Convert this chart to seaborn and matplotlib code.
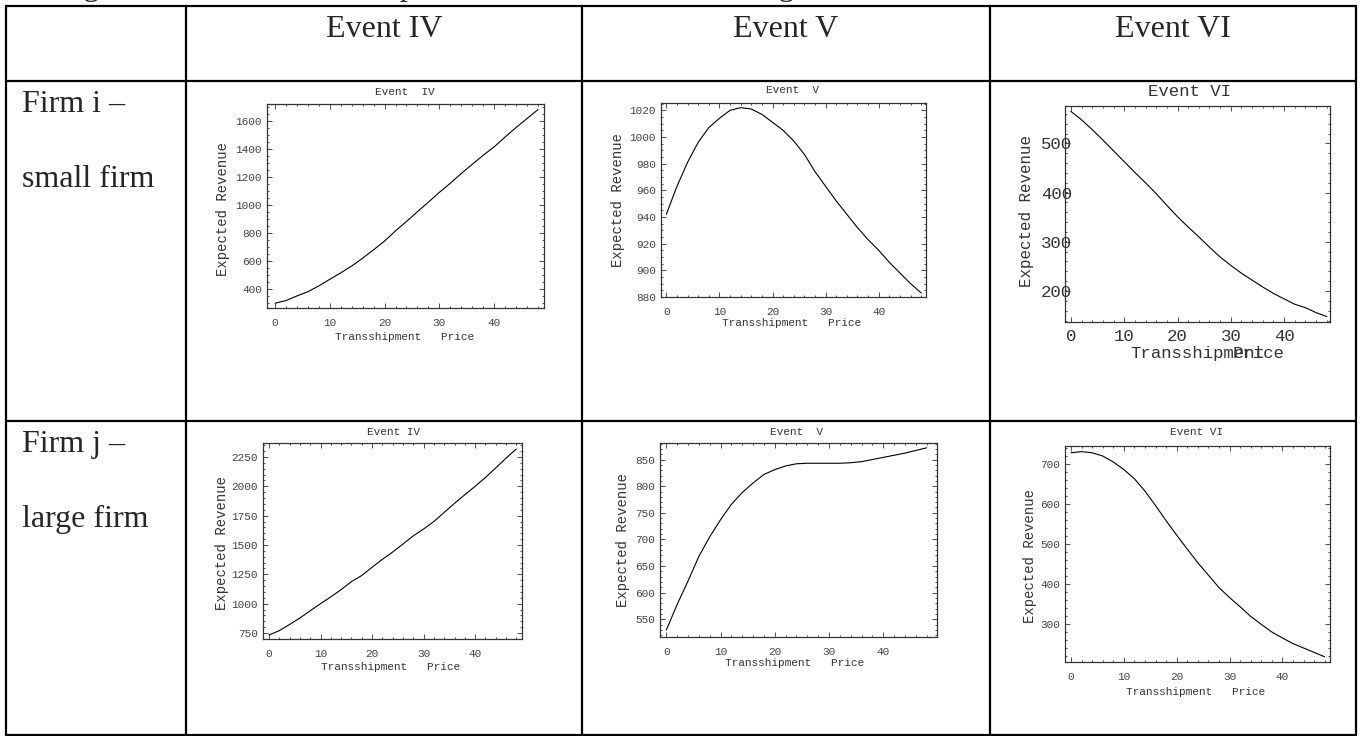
import numpy as np
import pandas as pd
import seaborn as sns
from matplotlib import pyplot as plt
from matplotlib.lines import Line2D
from matplotlib.ticker import MultipleLocator, AutoMinorLocator

W, H = 1362, 736

# Transshipment price grid (every 2 units)
price = list(range(0, 50, 2))

# Firm i - small firm, expected revenue
rev_i_iv = [298, 317, 350, 380, 422, 469, 515, 564, 620, 680, 742, 815, 882,
            952, 1020, 1090, 1155, 1225, 1290, 1355, 1415, 1485, 1553, 1617, 1681]
rev_i_v = [942, 963, 981, 996, 1007, 1014, 1020, 1022, 1021, 1017, 1011, 1005, 997,
           987, 974, 963, 952, 942, 932, 923, 915, 906, 898, 890, 883]
rev_i_vi = [565, 548, 528, 507, 485, 463, 441, 420, 398, 374, 351, 330, 310,
            289, 269, 252, 236, 222, 208, 195, 184, 173, 166, 156, 148]

# Firm j - large firm, expected revenue
rev_j_iv = [733, 770, 823, 878, 940, 1000, 1058, 1120, 1188, 1240, 1310, 1378, 1440,
            1508, 1578, 1636, 1700, 1778, 1855, 1928, 2000, 2075, 2156, 2240, 2318]
rev_j_v = [530, 578, 622, 668, 705, 737, 766, 788, 806, 822, 831, 838, 842,
           843, 843, 843, 843, 844, 846, 850, 854, 858, 862, 867, 872]
rev_j_vi = [727, 730, 727, 719, 704, 685, 662, 631, 595, 557, 521, 486, 452,
            421, 390, 365, 342, 318, 298, 279, 264, 250, 239, 228, 217]

col_heads = ['Event IV', 'Event V', 'Event VI']
row_heads = [('Firm i –', 'small firm'), ('Firm j –', 'large firm')]
plot_titles = ['Event  IV', 'Event  V', 'Event VI', 'Event IV', 'Event  V', 'Event VI']
x_title = 'Transshipment   Price'
y_title = 'Expected Revenue'
caption = 'The figures below show the expected revenue of firms during Events IV, V, VI'

series = [rev_i_iv, rev_i_v, rev_i_vi, rev_j_iv, rev_j_v, rev_j_vi]

# axes box in pixels, x limits, y limits, y step, y minor count
boxes = [(267, 104, 544, 308), (661, 103, 926, 297), (1065, 106, 1330, 322),
         (263, 443, 522, 639), (660, 443, 937, 637), (1065, 446, 1330, 662)]
xlims = [(-1.46, 49.1), (-1.0, 48.9), (-1.1, 48.6), (-1.17, 49.1), (-1.16, 49.9), (-1.14, 49.0)]
ylims = [(264, 1721), (880, 1025.5), (137, 576), (699, 2369), (517, 881), (204, 744)]
ysteps = [200, 20, 100, 250, 50, 100]
yminor = [4, 4, 5, 5, 5, 5]
title_pos = [(405, 92), (793, 90), (1190, 92), (393, 432), (797, 432), (1197, 432)]
xlab_pos = [(405, 337), (792, 323), None, (391, 667), (795, 663), (1196, 692)]
ylab_pos = [(223, 209), (618, 200), (1026, 211), (222, 543), (623, 540), (1030, 556)]

sns.set_theme(style='white')
plt.rcParams['font.family'] = ['Liberation Mono', 'DejaVu Sans']

fig = plt.figure(figsize=(W / 100, H / 100), dpi=100)


def fx(x):
    return x / W


def fy(y):
    return 1 - y / H


# table grid
cols = [6, 186, 582, 990, 1356]
for x in cols:
    fig.add_artist(Line2D([fx(x), fx(x)], [fy(6), fy(735)], color='black', lw=1.6))
for y in [6, 81, 421, 735]:
    fig.add_artist(Line2D([fx(6), fx(1356)], [fy(y), fy(y)], color='black', lw=1.6))

serif = ['Liberation Serif', 'DejaVu Serif']
# caption line above the table, cut off by the page edge
fig.text(fx(6), fy(-5), caption, family=serif, fontsize=23, va='baseline', ha='left')
for i, head in enumerate(col_heads):
    cx = (cols[i + 1] + cols[i + 2]) / 2
    fig.text(fx(cx), fy(37), head, family=serif, fontsize=23, ha='center', va='baseline')
for r, (l1, l2) in enumerate(row_heads):
    top = [81, 421][r]
    fig.text(fx(22), fy(top + 31), l1, family=serif, fontsize=23, va='baseline')
    fig.text(fx(22), fy(top + 106), l2, family=serif, fontsize=23, va='baseline')

for k, rev in enumerate(series):
    x0, y0, x1, y1 = boxes[k]
    ax = fig.add_axes([fx(x0), fy(y1), (x1 - x0) / W, (y1 - y0) / H])
    df = pd.DataFrame({'price': price, 'rev': rev})
    sns.lineplot(data=df, x='price', y='rev', ax=ax, color='black', linewidth=0.8)
    ax.set_xlim(*xlims[k])
    ax.set_ylim(*ylims[k])
    ax.set_xlabel('')
    ax.set_ylabel('')
    ax.set_facecolor('white')
    ax.xaxis.set_major_locator(MultipleLocator(10))
    ax.xaxis.set_minor_locator(AutoMinorLocator(5))
    ax.yaxis.set_major_locator(MultipleLocator(ysteps[k]))
    ax.yaxis.set_minor_locator(AutoMinorLocator(yminor[k]))
    ax.tick_params(which='both', direction='in', top=True, right=True,
                   bottom=True, left=True, color='#333333', width=0.6)
    ax.tick_params(which='major', length=3.5)
    ax.tick_params(which='minor', length=1.6)
    for s in ax.spines.values():
        s.set_color('#333333')
        s.set_linewidth(0.9)

    big = (k == 2)
    if big:
        # this panel came out with a larger typewriter font and overlapping labels
        ax.tick_params(axis='x', labelsize=12.5, pad=5, labelcolor='#333333')
        ax.tick_params(axis='y', labelsize=12.5, pad=-5, labelcolor='#333333')
        fs_t, fs_x, fs_y = 12.5, 12.5, 11.4
    else:
        ax.tick_params(axis='x', labelsize=8, pad=7, labelcolor='#444444')
        ax.tick_params(axis='y', labelsize=8, pad=3.5, labelcolor='#444444')
        fs_t, fs_x, fs_y = 8, 8, 10

    tx, ty = title_pos[k]
    fig.text(fx(tx), fy(ty), plot_titles[k], fontsize=fs_t, color='#333333', ha='center', va='center')
    yx, yy = ylab_pos[k]
    fig.text(fx(yx), fy(yy), y_title, fontsize=fs_y, color='#333333', rotation=90,
             ha='center', va='center')
    if big:
        fig.text(fx(1130), fy(358), 'Transshipment', fontsize=fs_x, color='#333333',
                 ha='left', va='baseline')
        fig.text(fx(1285), fy(358), 'Price', fontsize=fs_x, color='#333333',
                 ha='right', va='baseline')
    else:
        lx, ly = xlab_pos[k]
        fig.text(fx(lx), fy(ly), x_title, fontsize=fs_x, color='#333333', ha='center', va='center')

fig.savefig('out.png', dpi=100, facecolor='white')
